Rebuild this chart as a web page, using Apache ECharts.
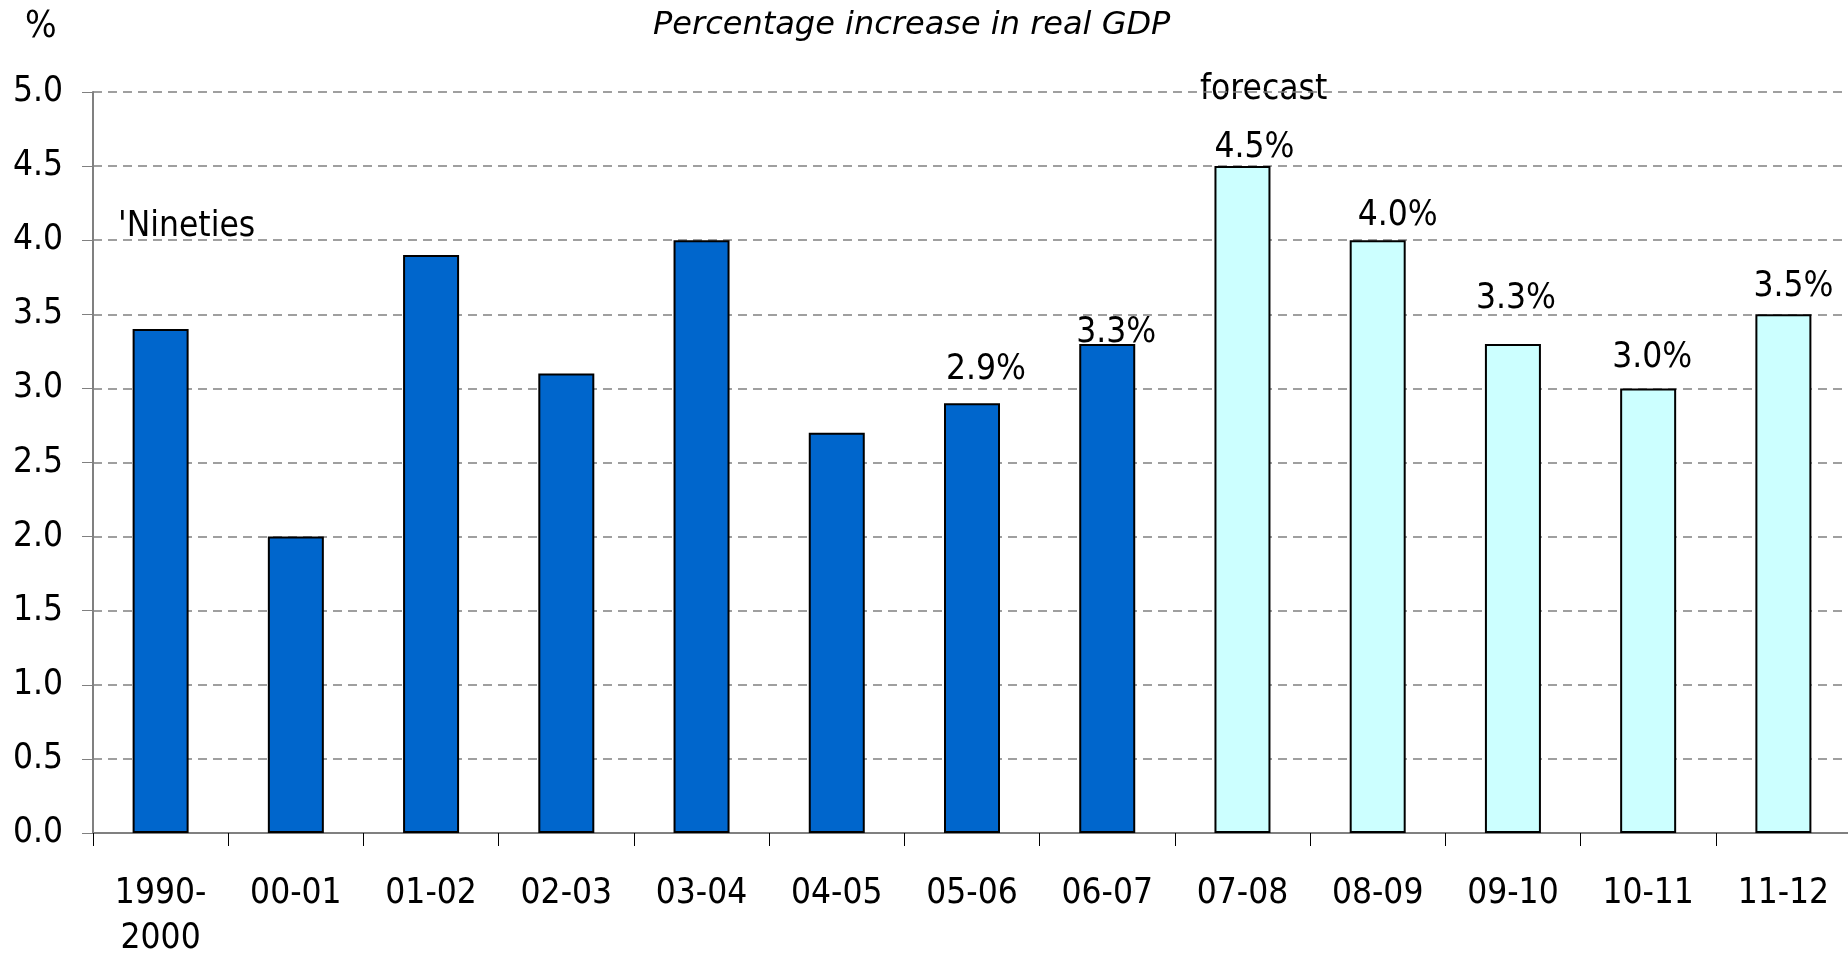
<!DOCTYPE html>
<html>
<head>
<meta charset="utf-8">
<title>Percentage increase in real GDP</title>
<script src="https://cdn.jsdelivr.net/npm/echarts@6/dist/echarts.min.js"></script>
<style>
  html, body { margin: 0; padding: 0; background: #ffffff; }
  #chart { width: 1848px; height: 953px; }
</style>
</head>
<body>
<div id="chart"></div>
<script>
// Financial years (1990-2000 is the decade average)
const categories = ['1990-\n2000', '00-01', '01-02', '02-03', '03-04', '04-05', '05-06', '06-07',
                    '07-08', '08-09', '09-10', '10-11', '11-12'];
// Real GDP growth, per cent
const growth = [3.4, 2.0, 3.9, 3.1, 4.0, 2.7, 2.9, 3.3, 4.5, 4.0, 3.3, 3.0, 3.5];
// First forecast year
const firstForecast = '07-08';
// Years whose value is written above the bar
const labelledYears = ['05-06', '06-07', '07-08', '08-09', '09-10', '10-11', '11-12'];
// Value axis ticks
const yMin = 0, yMax = 5, yStep = 0.5;

// Label nudges (px, [dx, dy]) for the value labels
const labelNudge = {
  '05-06': [14, -8], '06-07': [9, 14], '07-08': [12, 7], '08-09': [20, 1],
  '09-10': [3, -20], '10-11': [4, -5], '11-12': [10, -2]
};

const FONT = '"DejaVu Sans Condensed", "DejaVu Sans", sans-serif';
const TITLE_FONT = '"DejaVu Sans", sans-serif';
const BLUE = '#0066CC';
const CYAN = '#CCFFFF';
const GREY = '#808080';

const forecastIdx = categories.indexOf(firstForecast);

const barData = growth.map((v, i) => {
  const cat = categories[i];
  const item = {
    value: v,
    itemStyle: { color: i >= forecastIdx ? CYAN : BLUE }
  };
  if (labelledYears.includes(cat)) {
    const n = labelNudge[cat] || [0, 0];
    item.label = { show: true, offset: n };
  }
  return item;
});

const chart = echarts.init(document.getElementById('chart'), null, { renderer: 'canvas' });

chart.setOption({
  backgroundColor: '#ffffff',
  animation: false,
  textStyle: { fontFamily: FONT },
  grid: { left: 93, top: 92, width: 1758, height: 741, containLabel: false, outerBoundsMode: 'none' },
  xAxis: {
    type: 'category',
    data: categories,
    boundaryGap: true,
    axisLine: { show: true, lineStyle: { color: GREY, width: 2 } },
    axisTick: { show: true, length: 13, inside: false, lineStyle: { color: '#000000', width: 1 } },
    axisLabel: {
      interval: 0, margin: 38, color: '#000000', fontFamily: FONT, fontSize: 35, lineHeight: 45
    },
    splitLine: { show: false }
  },
  yAxis: {
    type: 'value',
    min: yMin, max: yMax, interval: yStep,
    axisLine: { show: true, lineStyle: { color: GREY, width: 2 } },
    axisTick: { show: true, length: 11, inside: false, lineStyle: { color: GREY, width: 1 } },
    axisLabel: {
      margin: 30, color: '#000000', fontFamily: FONT, fontSize: 35,
      formatter: v => v.toFixed(1)
    },
    splitLine: { show: true, lineStyle: { color: GREY, width: 1.5, type: [9, 6] } }
  },
  series: [{
    type: 'bar',
    data: barData,
    barWidth: 56,
    itemStyle: { borderColor: '#000000', borderWidth: 2 },
    label: {
      show: false, position: 'top', distance: 8,
      color: '#000000', fontFamily: FONT, fontSize: 35,
      formatter: p => p.value.toFixed(1) + '%'
    }
  }],
  graphic: [
    { type: 'text', left: 25, top: 9,
      style: { text: '%', font: '37px ' + FONT, fill: '#000' } },
    { type: 'text', x: 653, y: 26,
      style: { text: 'Percentage increase in real GDP', font: 'italic 32px ' + TITLE_FONT,
               fill: '#000', verticalAlign: 'middle' } },
    { type: 'text', x: 118, y: 227,
      style: { text: "'Nineties", font: '35px ' + FONT, fill: '#000', verticalAlign: 'middle' } },
    { type: 'text', x: 1200, y: 90,
      style: { text: 'forecast', font: '35px ' + FONT, fill: '#000', verticalAlign: 'middle' } }
  ]
});
</script>
</body>
</html>
